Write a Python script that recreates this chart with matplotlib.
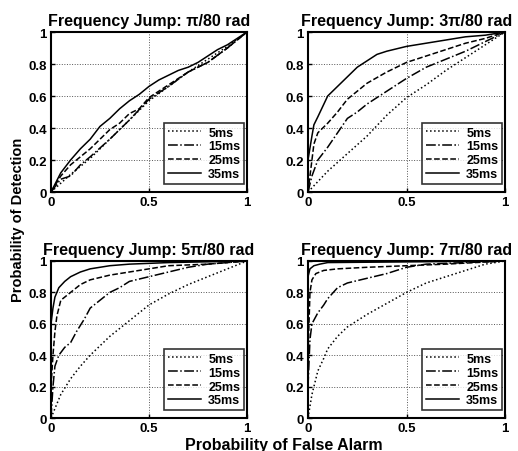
#!/usr/bin/env python3
# -*- coding: utf-8 -*-
"""ROC curves for four frequency jumps (2x2 grid, MATLAB style)."""
import matplotlib
matplotlib.use("Agg")
import matplotlib.pyplot as plt

plt.rcParams['font.family'] = ['Liberation Sans', 'DejaVu Sans']
plt.rcParams['font.weight'] = 'bold'

titles = ['Frequency Jump: \u03c0/80 rad', 'Frequency Jump: 3\u03c0/80 rad',
          'Frequency Jump: 5\u03c0/80 rad', 'Frequency Jump: 7\u03c0/80 rad']
durations = ['5ms', '15ms', '25ms', '35ms']

# (false alarm, detection) per panel, per duration
pf_1 = {
    '5ms': [0, 0.1, 0.2, 0.3, 0.4, 0.5, 0.6, 0.7, 0.8, 0.9, 1],
    '15ms': [0, 0.05, 0.1, 0.15, 0.2, 0.3, 0.4, 0.5, 0.6, 0.7, 0.8, 0.9, 1],
    '25ms': [0, 0.05, 0.1, 0.2, 0.3, 0.35, 0.4, 0.45, 0.5, 0.6, 0.7, 0.8, 0.9, 1],
    '35ms': [0, 0.05, 0.1, 0.15, 0.2, 0.25, 0.3, 0.35, 0.4, 0.45, 0.5, 0.55, 0.6,
             0.65, 0.7, 0.75, 0.8, 0.85, 0.9, 0.95, 1],
}
pd_1 = {
    '5ms': [0, 0.11, 0.21, 0.33, 0.45, 0.57, 0.66, 0.75, 0.83, 0.91, 1],
    '15ms': [0, 0.08, 0.1, 0.17, 0.22, 0.33, 0.45, 0.58, 0.66, 0.75, 0.81, 0.9, 1],
    '25ms': [0, 0.1, 0.17, 0.27, 0.39, 0.43, 0.49, 0.52, 0.59, 0.67, 0.75, 0.81, 0.9, 1],
    '35ms': [0, 0.12, 0.2, 0.27, 0.33, 0.41, 0.46, 0.52, 0.57, 0.61, 0.66, 0.7, 0.73,
             0.76, 0.78, 0.81, 0.85, 0.89, 0.92, 0.96, 1],
}

pf_3 = {
    '5ms': [0, 0.1, 0.2, 0.3, 0.4, 0.5, 0.6, 0.7, 0.8, 0.9, 1],
    '15ms': [0, 0.02, 0.05, 0.1, 0.15, 0.2, 0.25, 0.3, 0.4, 0.5, 0.6, 0.7, 0.8, 0.9, 1],
    '25ms': [0, 0.02, 0.03, 0.05, 0.1, 0.15, 0.2, 0.25, 0.3, 0.4, 0.5, 0.6, 0.7, 0.8, 0.9, 1],
    '35ms': [0, 0.02, 0.03, 0.05, 0.1, 0.15, 0.2, 0.25, 0.3, 0.35, 0.4, 0.5, 0.6, 0.7,
             0.8, 0.9, 1],
}
pd_3 = {
    '5ms': [0, 0.13, 0.24, 0.35, 0.48, 0.59, 0.67, 0.76, 0.84, 0.92, 1],
    '15ms': [0, 0.1, 0.2, 0.28, 0.37, 0.46, 0.5, 0.55, 0.63, 0.71, 0.78, 0.83, 0.88, 0.94, 1],
    '25ms': [0, 0.2, 0.3, 0.37, 0.43, 0.5, 0.58, 0.63, 0.68, 0.75, 0.81, 0.85, 0.89, 0.93, 0.96, 1],
    '35ms': [0.2, 0.35, 0.42, 0.47, 0.6, 0.66, 0.72, 0.78, 0.82, 0.86, 0.88, 0.91, 0.93, 0.95,
             0.97, 0.98, 1],
}

pf_5 = {
    '5ms': [0, 0.05, 0.1, 0.15, 0.2, 0.3, 0.4, 0.5, 0.6, 0.7, 0.8, 0.9, 1],
    '15ms': [0, 0.01, 0.02, 0.04, 0.07, 0.1, 0.13, 0.17, 0.2, 0.25, 0.3, 0.35, 0.4, 0.5,
             0.6, 0.7, 0.8, 1],
    '25ms': [0, 0.01, 0.02, 0.03, 0.05, 0.1, 0.15, 0.2, 0.3, 0.4, 0.5, 0.6, 0.8, 1],
    '35ms': [0, 0.01, 0.02, 0.04, 0.07, 0.1, 0.15, 0.2, 0.3, 0.4, 0.6, 1],
}
pd_5 = {
    '5ms': [0, 0.15, 0.25, 0.33, 0.4, 0.52, 0.62, 0.72, 0.79, 0.85, 0.9, 0.95, 1],
    '15ms': [0, 0.2, 0.33, 0.4, 0.45, 0.48, 0.55, 0.63, 0.7, 0.75, 0.8, 0.83, 0.87, 0.9,
             0.93, 0.96, 0.98, 1],
    '25ms': [0.2, 0.4, 0.55, 0.65, 0.75, 0.8, 0.85, 0.88, 0.91, 0.93, 0.95, 0.97, 0.98, 1],
    '35ms': [0.6, 0.7, 0.77, 0.83, 0.87, 0.9, 0.93, 0.95, 0.97, 0.98, 0.99, 1],
}

pf_7 = {
    '5ms': [0, 0.02, 0.05, 0.08, 0.1, 0.15, 0.2, 0.3, 0.4, 0.5, 0.6, 0.7, 0.8, 0.9, 1],
    '15ms': [0, 0.01, 0.02, 0.05, 0.08, 0.1, 0.15, 0.2, 0.3, 0.4, 0.5, 0.6, 0.8, 1],
    '25ms': [0, 0.005, 0.01, 0.02, 0.04, 0.08, 0.15, 0.3, 0.5, 0.7, 1],
    '35ms': [0, 0.01, 0.03, 0.06, 0.1, 1],
}
pd_7 = {
    '5ms': [0, 0.15, 0.3, 0.38, 0.44, 0.52, 0.58, 0.66, 0.73, 0.8, 0.86, 0.9, 0.94, 0.98, 1],
    '15ms': [0.2, 0.5, 0.6, 0.67, 0.72, 0.76, 0.83, 0.86, 0.89, 0.92, 0.96, 0.98, 0.99, 1],
    '25ms': [0.4, 0.6, 0.8, 0.88, 0.92, 0.94, 0.95, 0.96, 0.97, 0.98, 1],
    '35ms': [0.9, 0.95, 0.97, 0.98, 0.99, 1],
}

panels = [(pf_1, pd_1), (pf_3, pd_3), (pf_5, pd_5), (pf_7, pd_7)]
styles = {'5ms': ':', '15ms': '-.', '25ms': '--', '35ms': '-'}

# axes rectangles in figure fractions (left, bottom, width, height)
W, H = 518.0, 452.0
rects = [
    (51 / W, 1 - 193 / H, 196 / W, 160 / H),
    (308 / W, 1 - 193 / H, 197 / W, 160 / H),
    (51 / W, 1 - 419 / H, 196 / W, 157 / H),
    (308 / W, 1 - 419 / H, 197 / W, 157 / H),
]

fig = plt.figure(figsize=(5.18, 4.52), dpi=100)

for rect, title, (pf, pd) in zip(rects, titles, panels):
    ax = fig.add_axes(rect)
    for d in durations:
        ax.plot(pf[d], pd[d], color='black', linestyle=styles[d], linewidth=1.1, label=d)
    ax.set_xlim(0, 1)
    ax.set_ylim(0, 1)
    ax.set_xticks([0, 0.5, 1])
    ax.set_xticklabels(['0', '0.5', '1'])
    ax.set_yticks([0, 0.2, 0.4, 0.6, 0.8, 1])
    ax.set_yticklabels(['0', '0.2', '0.4', '0.6', '0.8', '1'])
    ax.tick_params(direction='in', labelsize=9.5, length=3, width=1, pad=3)
    for lab in ax.get_xticklabels() + ax.get_yticklabels():
        lab.set_fontweight('bold')
    ax.grid(True, linestyle=':', color='#555555', linewidth=0.7)
    for sp in ax.spines.values():
        sp.set_linewidth(1.5)
    ax.set_title(title, fontsize=11.5, fontweight='bold', pad=5)
    leg = ax.legend(loc='lower right', bbox_to_anchor=(0.985, 0.05), fontsize=9,
                    frameon=True, fancybox=False, handlelength=2.6, borderpad=0.3,
                    labelspacing=0.15, handletextpad=0.6, borderaxespad=0.0)
    leg.get_frame().set_edgecolor('black')
    leg.get_frame().set_linewidth(1.2)
    for t in leg.get_texts():
        t.set_fontweight('bold')

fig.text(18 / W, 1 - 220 / H, 'Probability of Detection', rotation=90, ha='center',
         va='center', fontsize=10.5, fontweight='bold')
fig.text(284 / W, 1 - 438 / H, 'Probability of False Alarm', ha='center', va='top',
         fontsize=11.5, fontweight='bold')

fig.savefig('out.png', dpi=100)
